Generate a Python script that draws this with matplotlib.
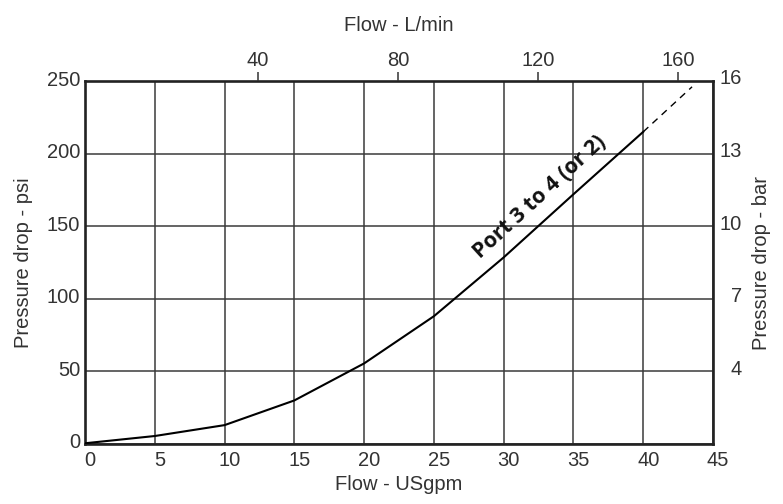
import matplotlib
matplotlib.use("Agg")
import matplotlib.pyplot as plt
import matplotlib.transforms as mtransforms

# Data
flow_gpm = [0, 5, 10, 15, 20, 25, 30, 35, 40]
dp_psi = [0.5, 5.5, 13, 30, 55.5, 88, 128.5, 172, 215]
flow_gpm_ext = [40, 43.5]
dp_psi_ext = [215, 246]

x_ticks = [0, 5, 10, 15, 20, 25, 30, 35, 40, 45]
y_ticks = [0, 50, 100, 150, 200, 250]
bar_tick_psi = [50, 100, 150, 200, 250]
bar_tick_labels = ["4", "7", "10", "13", "16"]
lpm_ticks = [40, 80, 120, 160]
lpm_limits = (-9.4, 170.0)

curve_label = "Port 3 to 4 (or 2)"

FONT = ["Liberation Sans", "DejaVu Sans"]
plt.rcParams["font.family"] = FONT
TXT = "#333333"
FS = 14.5

fig = plt.figure(figsize=(7.83, 5.04), dpi=100)
ax = fig.add_axes([85/783, 1-444/504, (713-85)/783, (444-81)/504])

ax.set_xlim(0, 45)
ax.set_ylim(0, 250)
ax.set_xticks(x_ticks)
ax.set_yticks(y_ticks)
ax.grid(True, color="#3a3a3a", linewidth=1.1)
ax.tick_params(axis="both", length=0, labelsize=FS, colors=TXT)
ax.tick_params(axis="x", pad=5)
ax.tick_params(axis="y", pad=3.5)
for sp in ax.spines.values():
    sp.set_linewidth(1.9)
    sp.set_color("#222222")

# nudge tick labels like the reference
off_x = mtransforms.ScaledTranslation(5/100, 0, fig.dpi_scale_trans)
for lab in ax.get_xticklabels():
    lab.set_transform(lab.get_transform() + off_x)
off_y = mtransforms.ScaledTranslation(0, 3/100, fig.dpi_scale_trans)
for lab in ax.get_yticklabels():
    lab.set_transform(lab.get_transform() + off_y)

ax.plot(flow_gpm, dp_psi, color="black", linewidth=1.5, zorder=3)
ax.plot(flow_gpm_ext, dp_psi_ext, color="black", linewidth=1.0,
        linestyle=(0, (5, 4)), zorder=3)

ax.text(32.6, 170, curve_label, rotation=42.5, rotation_mode="anchor",
        ha="center", va="center", fontsize=15.5, fontweight="bold",
        family=["Open Sans", "DejaVu Sans"], color="#111111", zorder=4)

ax.set_xlabel("Flow - USgpm", fontsize=FS, color=TXT, labelpad=4)
ax.set_ylabel("Pressure drop - psi", fontsize=FS, color=TXT, labelpad=10)

# right axis (bar)
axr = ax.twinx()
axr.set_ylim(0, 250)
axr.set_yticks(bar_tick_psi)
axr.set_yticklabels(bar_tick_labels)
axr.tick_params(axis="y", length=0, labelsize=FS, colors=TXT, pad=6.5)
off_r = mtransforms.ScaledTranslation(20/100, 4/100, fig.dpi_scale_trans)
for lab in axr.get_yticklabels():
    lab.set_horizontalalignment("right")
    lab.set_transform(lab.get_transform() + off_r)
axr.set_ylabel("Pressure drop - bar", fontsize=FS, color=TXT, labelpad=7)
for sp in axr.spines.values():
    sp.set_visible(False)

# top axis (L/min)
axt = ax.twiny()
axt.set_xlim(*lpm_limits)
axt.set_xticks(lpm_ticks)
axt.tick_params(axis="x", length=6.5, width=1.1, color="#333333",
                labelsize=FS, colors=TXT, pad=1.5)
axt.set_xlabel("Flow - L/min", fontsize=FS, color=TXT, labelpad=14)
for sp in axt.spines.values():
    sp.set_visible(False)

fig.savefig("out.png", dpi=100)
